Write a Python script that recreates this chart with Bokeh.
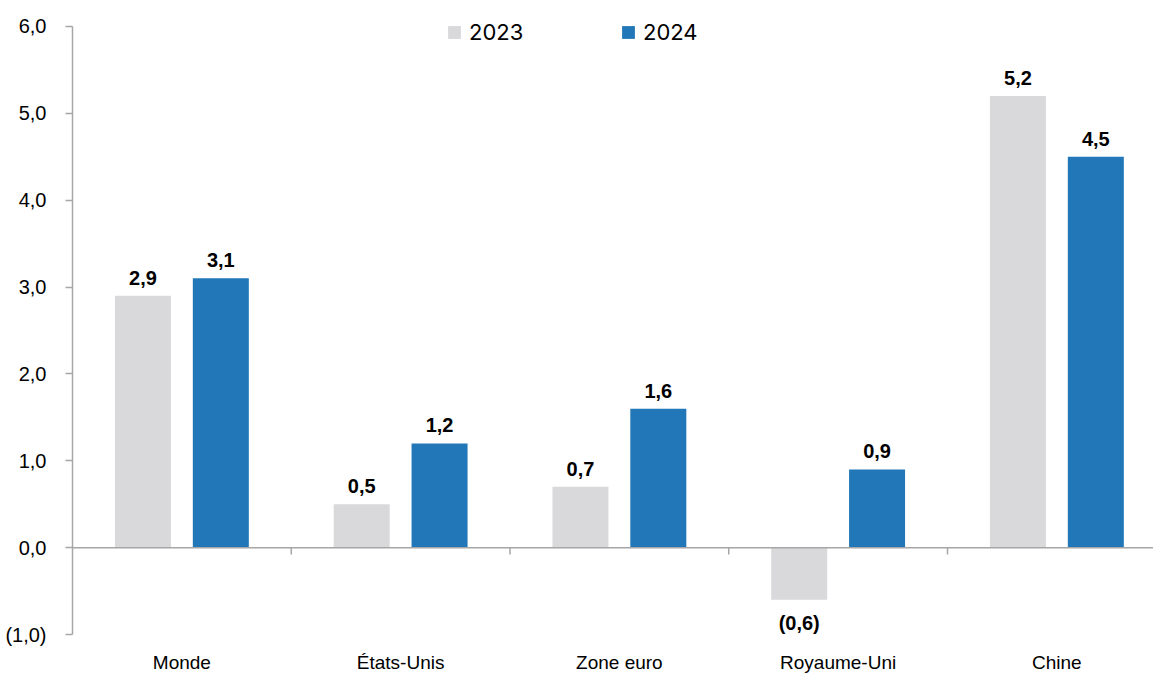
from bokeh.plotting import figure
from bokeh.models import Range1d, FixedTicker, Span, ColumnDataSource, Legend, LegendItem
from bokeh.core.properties import value
from bokeh.embed import file_html
from bokeh.resources import INLINE

categories = ["Monde", "États-Unis", "Zone euro", "Royaume-Uni", "Chine"]
series_names = ["2023", "2024"]
values_2023 = [2.9, 0.5, 0.7, -0.6, 5.2]
values_2024 = [3.1, 1.2, 1.6, 0.9, 4.5]
y_ticks = [-1, 0, 1, 2, 3, 4, 5, 6]
y_tick_labels = ["(1,0)", "0,0", "1,0", "2,0", "3,0", "4,0", "5,0", "6,0"]
colors = ["#D9D9DB", "#2277B8"]

AXIS_COLOR = "#A6A6A6"
FONT = "Liberation Sans"


def fmt(v):
    s = f"{abs(v):.1f}".replace(".", ",")
    return f"({s})" if v < 0 else s


n = len(categories)
# frame spans the full height above the axis; y axis itself is bounded to the tick range
p = figure(width=1153, height=675, output_backend="svg", toolbar_location=None,
           x_range=Range1d(-0.5, n - 0.5583),
           y_range=Range1d(y_ticks[0], y_ticks[-1] + 0.2984),
           min_border_left=72, min_border_right=0, min_border_top=0, min_border_bottom=39)
p.outline_line_color = None
p.xgrid.visible = False
p.ygrid.visible = False

offsets = [-0.178, 0.178]
bar_w = 0.256
renderers = []
for vals, off, col in zip([values_2023, values_2024], offsets, colors):
    xs = [i + off for i in range(n)]
    src = ColumnDataSource(dict(x=xs, top=vals))
    r = p.vbar(x="x", top="top", bottom=0, width=bar_w, source=src,
               fill_color=col, line_color=None)
    renderers.append(r)
    pos = ColumnDataSource(dict(x=[x for x, v in zip(xs, vals) if v >= 0],
                                y=[v for v in vals if v >= 0],
                                t=[fmt(v) for v in vals if v >= 0]))
    neg = ColumnDataSource(dict(x=[x for x, v in zip(xs, vals) if v < 0],
                                y=[v for v in vals if v < 0],
                                t=[fmt(v) for v in vals if v < 0]))
    p.text(x="x", y="y", text="t", source=pos, text_align="center",
           text_baseline="alphabetic", y_offset=-18, text_font=value(FONT),
           text_font_style="bold", text_font_size="20px", text_color="#000000")
    p.text(x="x", y="y", text="t", source=neg, text_align="center",
           text_baseline="top", y_offset=12, text_font=value(FONT),
           text_font_style="bold", text_font_size="20px", text_color="#000000")

# zero line and category boundary ticks
p.add_layout(Span(location=0, dimension="width", line_color=AXIS_COLOR, line_width=1.5))
bx = [i + 0.5 for i in range(n - 1)]
p.segment(x0=bx, x1=bx, y0=[0] * len(bx), y1=[-0.08] * len(bx),
          line_color=AXIS_COLOR, line_width=1.5)

# y axis
ya = p.yaxis[0]
ya.bounds = (y_ticks[0], y_ticks[-1])
ya.ticker = FixedTicker(ticks=y_ticks)
ya.major_label_overrides = dict(zip(y_ticks, y_tick_labels))
ya.axis_line_color = AXIS_COLOR
ya.axis_line_width = 1.5
ya.major_tick_line_color = AXIS_COLOR
ya.major_tick_line_width = 1.5
ya.major_tick_out = 7
ya.major_tick_in = 0
ya.minor_tick_line_color = None
ya.major_label_standoff = 19
ya.major_label_text_font = FONT
ya.major_label_text_font_size = "20px"
ya.major_label_text_color = "#000000"

# x axis (category labels)
xa = p.xaxis[0]
xa.ticker = FixedTicker(ticks=list(range(n)))
xa.major_label_overrides = {i: c for i, c in enumerate(categories)}
xa.axis_line_color = None
xa.major_tick_line_color = None
xa.minor_tick_line_color = None
xa.major_tick_out = 0
xa.major_tick_in = 0
xa.major_label_standoff = 17
xa.major_label_text_font = FONT
xa.major_label_text_font_size = "19px"
xa.major_label_text_color = "#000000"

# legends
for name, r, xloc in zip(series_names, renderers, [374, 548]):
    leg = Legend(items=[LegendItem(label=name, renderers=[r])], location=(xloc, 589),
                 orientation="horizontal", glyph_width=16, glyph_height=16,
                 label_standoff=7, padding=0, margin=0, spacing=0,
                 border_line_color=None, background_fill_alpha=0,
                 label_text_font="Inter", label_text_font_size="22px",
                 label_text_font_style="normal",
                 label_text_color="#000000", label_height=16)
    p.add_layout(leg)

open("out.html", "w").write(file_html(p, INLINE))
